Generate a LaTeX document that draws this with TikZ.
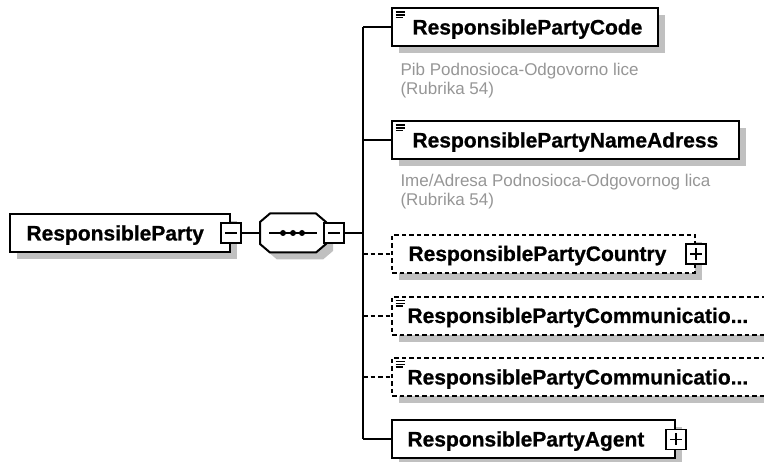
\documentclass[tikz,border=0pt]{standalone}
\usepackage{fontspec}
\setmainfont{Liberation Sans}
\newfontfamily\tagfont[FakeBold=0.8]{Liberation Sans}
\usetikzlibrary{shadows}

\definecolor{shadegray}{RGB}{192,192,192}
\definecolor{notegray}{RGB}{150,150,150}

\tikzset{
  elem/.style={draw, line width=2pt, fill=white, inner sep=0pt, minimum height=38pt,
    drop shadow={shadow xshift=7pt, shadow yshift=-7pt, fill=shadegray, draw=none, opacity=1}},
  optelem/.style={dash pattern=on 4.5pt off 3pt},
  simple/.style={path picture={
    \foreach \k/\l in {0/9,1/9,2/7}
      \draw[line width=1.5pt, solid] ([xshift=3.5pt, yshift={-(3.5+2.8*\k)*1pt}]path picture bounding box.north west) -- ++(\l,0);}},
  minusbox/.style={draw, line width=1.6pt, fill=white, minimum size=20pt, inner sep=0pt,
    path picture={\draw[line width=1.6pt] ([xshift=4pt]path picture bounding box.west) -- ([xshift=-4pt]path picture bounding box.east);}},
  plusbox/.style={draw, line width=1.6pt, fill=white, minimum size=20pt, inner sep=0pt,
    path picture={\draw[line width=1.6pt] ([xshift=4pt]path picture bounding box.west) -- ([xshift=-4pt]path picture bounding box.east);
      \draw[line width=1.6pt] ([yshift=-4pt]path picture bounding box.north) -- ([yshift=4pt]path picture bounding box.south);}},
  tagtext/.style={font=\tagfont\fontsize{21}{25}\selectfont\bfseries, anchor=base west, inner sep=0pt},
  notetext/.style={font=\fontsize{17}{19}\selectfont, text=notegray, anchor=north west, align=left, inner sep=0pt}
}

\begin{document}
\begin{tikzpicture}[x=1pt, y=-1pt, line width=2pt]
  \path[use as bounding box, clip] (0,0) rectangle (764,462);

  \begin{scope}[every node/.style={elem}]
    \node[minimum width=220pt] (root) at (120,233) {};
    \node[simple, minimum width=266pt] (c1) at (525,27.5) {};
    \node[simple, minimum width=347pt] (c2) at (565.5,140.5) {};
    \node[optelem, minimum width=303pt] (c3) at (543.5,254) {};
    \node[optelem, simple, minimum width=408pt] (c4) at (596,316) {};
    \node[optelem, simple, minimum width=408pt] (c5) at (596,377) {};
    \node[minimum width=283pt] (c6) at (533.5,439.5) {};
  \end{scope}

  % sequence compositor
  \node[minimum width=66pt, minimum height=39pt, inner sep=0pt] (seq) at (293,233) {};
  \begin{scope}[shift={(seq.center)}]
    \fill[shadegray, shift={(7,7)}] (-33,-11) -- (-23,-19.5) -- (23,-19.5) -- (33,-11)
      -- (33,11) -- (23,19.5) -- (-23,19.5) -- (-33,11) -- cycle;
    \draw[fill=white] (-33,-11) -- (-23,-19.5) -- (23,-19.5) -- (33,-11)
      -- (33,11) -- (23,19.5) -- (-23,19.5) -- (-33,11) -- cycle;
    \draw (-24,0) -- (24,0);
    \foreach \d in {-10,0,9}
      \fill (\d,0) circle (3);
  \end{scope}

  \coordinate (trunk) at (363,233);
  \path (root.east) edge (seq.west);
  \path (seq.east) edge (trunk);
  \path (trunk |- c1.west) edge (trunk |- c6.west);
  \foreach \c in {c1,c2,c6}
    \path (trunk |- \c.west) edge (\c.west);
  \foreach \c in {c3,c4,c5}
    \path (trunk |- \c.west) edge[optelem] (\c.west);

  \node[minusbox] (rminus) at (root.east) {};
  \node[minusbox] (sminus) at (334,233) {};
  \node[plusbox] (c3plus) at (c3.east) {};
  \node[plusbox] (c6plus) at (c6.east) {};

  \begin{scope}[every node/.style={tagtext}]
    \node (t0) at (25.5,240.5) {ResponsibleParty};
    \node (t1) at (411.5,34.5) {ResponsiblePartyCode};
    \node (t2) at (411.5,147.5) {ResponsiblePartyNameAdress};
    \node (t3) at (407.5,261) {ResponsiblePartyCountry};
    \node (t4) at (406.5,323) {ResponsiblePartyCommunicatio...};
    \node (t5) at (406.5,384.5) {ResponsiblePartyCommunicatio...};
    \node (t6) at (406.5,446.5) {ResponsiblePartyAgent};
  \end{scope}

  \node[notetext] (n1) at (399.5,62) {Pib Podnosioca-Odgovorno lice\\(Rubrika 54)};
  \node[notetext] (n2) at (399.5,173) {Ime/Adresa Podnosioca-Odgovornog lica\\(Rubrika 54)};

\end{tikzpicture}
\end{document}
